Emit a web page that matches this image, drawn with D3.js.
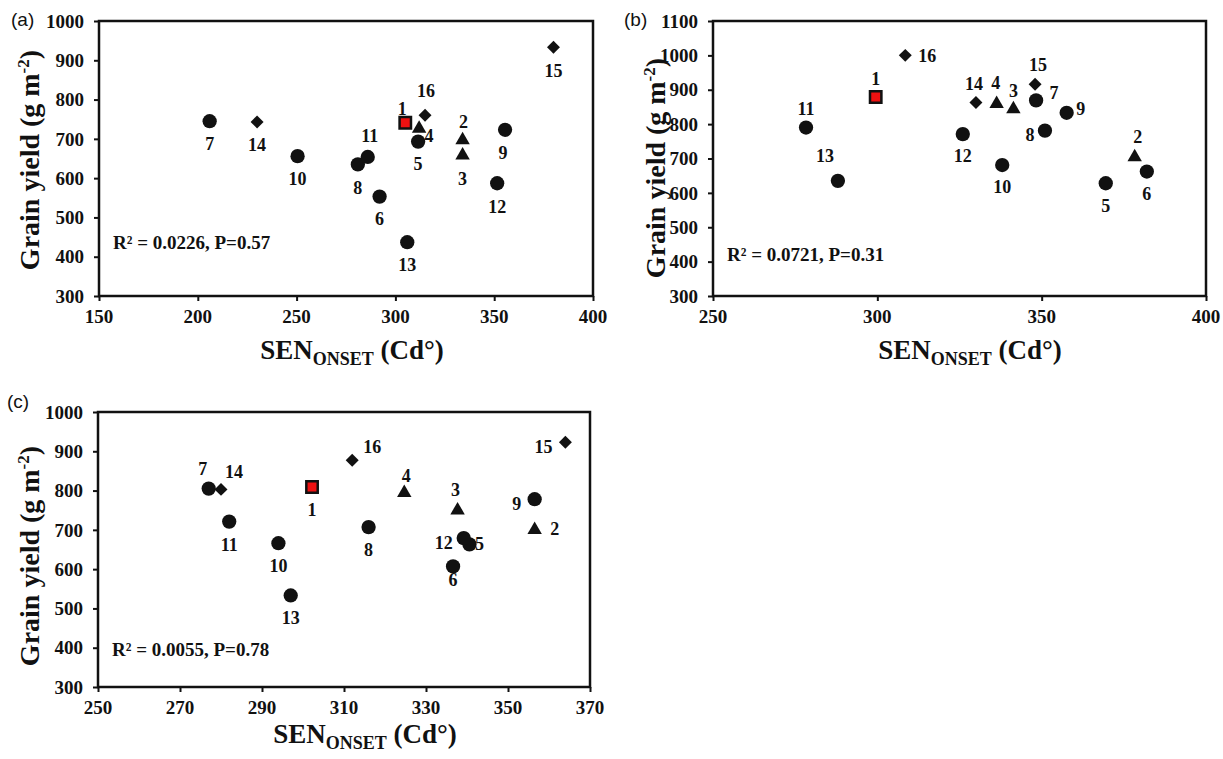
<!DOCTYPE html>
<html>
<head>
<meta charset="utf-8">
<script src="https://cdn.jsdelivr.net/npm/d3@7"></script>
<style>
  body { margin: 0; background: #fff; }
  svg text { font-family: "Liberation Serif", "Times New Roman", serif; font-weight: bold; fill: #111; }
  svg text.panel-tag { font-family: "Liberation Sans", Arial, sans-serif; font-weight: normal; }
</style>
</head>
<body>
<svg id="fig" width="1223" height="759"></svg>

<script>
// genotype numbers and their marker group
var ids = [1, 2, 3, 4, 5, 6, 7, 8, 9, 10, 11, 12, 13, 14, 15, 16];
var groups = ['check', 'tri', 'tri', 'tri', 'dot', 'dot', 'dot', 'dot', 'dot', 'dot', 'dot', 'dot', 'dot', 'dia', 'dia', 'dia'];

// panel (a)
var senA   = [305, 334, 334, 312, 311.5, 292, 206, 281, 355.5, 250.5, 286, 351.5, 306, 230, 380, 315];
var yieldA = [741, 697, 658, 726, 693, 553, 745, 635, 723, 656, 654, 587, 437, 743, 933, 760];
// panel (b)
var senB   = [299.5, 378.3, 341.4, 336.3, 369.5, 382, 348.3, 351, 357.6, 338, 278.3, 326, 288, 330, 348, 308.5];
var yieldB = [879, 704, 844, 859, 628, 662, 869, 781, 833, 681, 790, 771, 635, 863, 916, 1000];
// panel (c)
var senC   = [302.2, 356.5, 337.7, 324.7, 340.6, 336.6, 277, 316, 356.5, 294, 282, 339.2, 297, 280, 364, 312];
var yieldC = [809, 700, 750, 794, 663, 607, 805, 707, 778, 666, 721, 679, 533, 803, 923, 877];

var xTicksA = [150, 200, 250, 300, 350, 400];
var yTicksA = [300, 400, 500, 600, 700, 800, 900, 1000];
var xTicksB = [250, 300, 350, 400];
var yTicksB = [300, 400, 500, 600, 700, 800, 900, 1000, 1100];
var xTicksC = [250, 270, 290, 310, 330, 350, 370];
var yTicksC = [300, 400, 500, 600, 700, 800, 900, 1000];

var statsA = 'R\u00b2 = 0.0226, P=0.57';
var statsB = 'R\u00b2 = 0.0721, P=0.31';
var statsC = 'R\u00b2 = 0.0055, P=0.78';

// label nudges (px, from marker centre)
var nudgeA = [[-3,-14],[1,-18],[0,23],[10,7],[0,22],[0,22],[0,23],[0,23],[-2,23],[0,23],[2,-21],[0,23],[0,23],[0,23],[0,23],[1,-25]];
var nudgeB = [[0,-18],[3,-20],[0,-18],[-1,-21],[0,22],[0,22],[18,-8],[-15,4],[14,-4],[0,22],[0,-19],[0,22],[-13,-25],[-2,-19],[3,-20],[22,0]];
var nudgeC = [[0,23],[20,-1],[-2,-21],[2,-17],[10,-1],[0,13],[-6,-20],[0,23],[-18,4],[0,22],[0,23],[-20,5],[0,22],[13,-18],[-22,4],[20,-14]];

var svg = d3.select('#fig');

var panels = [
  { tag: '(a)', sen: senA, yld: yieldA, nudge: nudgeA, xd: [150, 400], yd: [300, 1000], xt: xTicksA, yt: yTicksA, stats: statsA,
    L: 99, R: 593, T: 21, B: 296, statsY: 249, tagX: 11, tagY: 26, ytX: 39, ytY: 160, xtX: 352, xtY: 359 },
  { tag: '(b)', sen: senB, yld: yieldB, nudge: nudgeB, xd: [250, 400], yd: [300, 1100], xt: xTicksB, yt: yTicksB, stats: statsB,
    L: 713, R: 1206, T: 21, B: 296, statsY: 261, tagX: 624, tagY: 26, ytX: 665, ytY: 168, xtX: 970, xtY: 359 },
  { tag: '(c)', sen: senC, yld: yieldC, nudge: nudgeC, xd: [250, 370], yd: [300, 1000], xt: xTicksC, yt: yTicksC, stats: statsC,
    L: 98, R: 590, T: 412, B: 687, statsY: 656, tagX: 7, tagY: 408, ytX: 39, ytY: 556, xtX: 365, xtY: 743 }
];

var sym = {
  check: d3.symbol().type(d3.symbolSquare).size(130),
  tri:   d3.symbol().type(d3.symbolTriangle).size(90),
  dot:   d3.symbol().type(d3.symbolCircle).size(160),
  dia:   d3.symbol().type(d3.symbolSquare).size(84)
};

panels.forEach(function(p) {
  var x = d3.scaleLinear().domain(p.xd).range([p.L, p.R]);
  var y = d3.scaleLinear().domain(p.yd).range([p.B, p.T]);
  var g = svg.append('g');

  // axes: tick marks from d3.axis, labels as plain text so they pick up the serif style
  var xa = g.append('g').attr('transform', 'translate(0,' + p.B + ')')
    .call(d3.axisBottom(x).tickValues(p.xt).tickFormat('').tickSize(5).tickSizeOuter(0));
  var ya = g.append('g').attr('transform', 'translate(' + p.L + ',0)')
    .call(d3.axisLeft(y).tickValues(p.yt).tickFormat('').tickSize(5).tickSizeOuter(0));
  [xa, ya].forEach(function(a) {
    a.select('.domain').remove();
    a.selectAll('text').remove();
    a.selectAll('line').attr('stroke', '#111').attr('stroke-width', 2);
  });

  g.selectAll('text.xtl').data(p.xt).enter().append('text')
    .attr('class', 'xtl')
    .attr('x', function(d) { return x(d); })
    .attr('y', p.B + 27)
    .attr('text-anchor', 'middle')
    .attr('font-size', 19)
    .text(function(d) { return d; });

  g.selectAll('text.ytl').data(p.yt).enter().append('text')
    .attr('class', 'ytl')
    .attr('x', p.L - 15)
    .attr('y', function(d) { return y(d); })
    .attr('dy', '0.35em')
    .attr('text-anchor', 'end')
    .attr('font-size', 19)
    .text(function(d) { return d; });

  // frame
  g.append('rect')
    .attr('x', p.L).attr('y', p.T).attr('width', p.R - p.L).attr('height', p.B - p.T)
    .attr('fill', 'none').attr('stroke', '#111').attr('stroke-width', 2.5);

  // points
  var pts = ids.map(function(id, i) {
    return { id: id, grp: groups[i], sx: p.sen[i], sy: p.yld[i], n: p.nudge[i] };
  });

  g.selectAll('path.pt').data(pts).enter().append('path')
    .attr('class', 'pt')
    .attr('d', function(d) { return sym[d.grp](); })
    .attr('transform', function(d) {
      return 'translate(' + x(d.sx) + ',' + y(d.sy) + ')' + (d.grp === 'dia' ? ' rotate(45)' : '');
    })
    .attr('fill', function(d) { return d.grp === 'check' ? '#ee1111' : '#111'; })
    .attr('stroke', '#111')
    .attr('stroke-width', function(d) { return d.grp === 'check' ? 2.5 : 0; });

  g.selectAll('text.lbl').data(pts).enter().append('text')
    .attr('class', 'lbl')
    .attr('x', function(d) { return x(d.sx) + d.n[0]; })
    .attr('y', function(d) { return y(d.sy) + d.n[1]; })
    .attr('dy', '0.35em')
    .attr('text-anchor', 'middle')
    .attr('font-size', 18)
    .text(function(d) { return d.id; });

  // stats
  g.append('text')
    .attr('x', p.L + 14).attr('y', p.statsY)
    .attr('font-size', 19)
    .text(p.stats);

  // panel tag
  svg.append('text').attr('class', 'panel-tag')
    .attr('x', p.tagX).attr('y', p.tagY).attr('font-size', 19).text(p.tag);

  // y title
  var yt = svg.append('text')
    .attr('transform', 'translate(' + p.ytX + ',' + p.ytY + ') rotate(-90)')
    .attr('text-anchor', 'middle').attr('font-size', 28);
  yt.append('tspan').text('Grain yield (g m');
  yt.append('tspan').attr('dy', -10).attr('font-size', 17).text('-2');
  yt.append('tspan').attr('dy', 10).text(')');

  // x title
  var xt = svg.append('text')
    .attr('x', p.xtX).attr('y', p.xtY)
    .attr('text-anchor', 'middle').attr('font-size', 27);
  xt.append('tspan').text('SEN');
  xt.append('tspan').attr('dy', 6).attr('font-size', 18).text('ONSET');
  xt.append('tspan').attr('dy', -6).text(' (Cd\u00b0)');
});
</script>
</body>
</html>
